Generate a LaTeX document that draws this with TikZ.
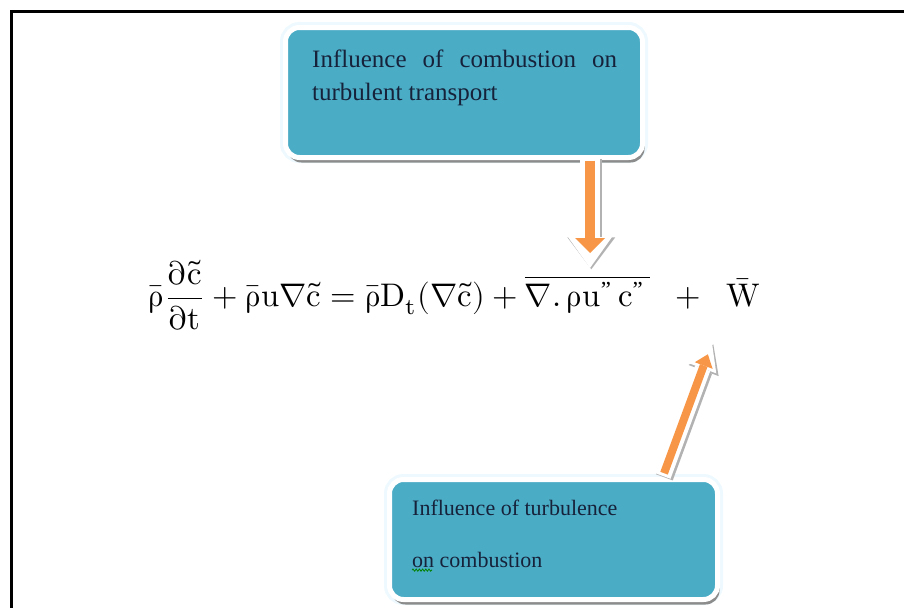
\documentclass[tikz,border=0pt]{standalone}
\usepackage{fontspec}
\usepackage[math-style=upright]{unicode-math}
\setmainfont{Liberation Serif}
\usepackage{graphicx}
\usepackage{tikz}
\usetikzlibrary{positioning, arrows.meta, calc, shadows, decorations.pathmorphing}
\definecolor{boxfill}{RGB}{75,172,198}
\definecolor{arrfill}{RGB}{247,150,70}
\definecolor{txtc}{RGB}{22,34,58}
\tikzset{
  infobox/.style={rounded corners=14pt, fill=boxfill, draw=white, line width=5pt,
    inner sep=0pt, outer sep=0pt,
    preaction={draw=cyan!7, line width=11pt},
    drop shadow={shadow xshift=2pt, shadow yshift=-5pt, fill=black!45, opacity=1}},
  infotxt/.style={text=txtc, inner sep=0pt, anchor=north west},
  arrgrey/.style n args={3}{draw=black!30, line width=#1, shorten >=0pt, shorten <=0pt,
    -{Triangle[length=#3,width=#2,line width=0pt]}, transform canvas={shift={(1.3pt,-1.3pt)}}},
  arrwhite/.style n args={3}{draw=white, line width=#1, shorten >=0pt, shorten <=0pt,
    -{Triangle[length=#3,width=#2,line width=0pt]}},
  downarr/.style={preaction={arrgrey={22pt}{48pt}{32pt}}, preaction={arrwhite={20pt}{44pt}{31pt}},
    draw=arrfill, line width=10pt, -{Triangle[length=15pt,width=30pt,line width=0pt]},
    shorten >=15pt, shorten <=3pt},
  uparr/.style={preaction={arrgrey={18pt}{32pt}{28pt}}, preaction={arrwhite={16pt}{29pt}{27pt}},
    draw=arrfill, line width=8pt, -{Triangle[length=12pt,width=19pt,line width=0pt]},
    shorten >=12pt, shorten <=3pt},
  frame/.style={line width=2.8pt, draw=black}
}

\begin{document}
\begin{tikzpicture}[x=1pt, y=-1pt]
\useasboundingbox (0,0) rectangle (904,608);
% ---------- frame ----------
\draw[frame] (10,11.5) -- (904,11.5);
\draw[frame] (11.5,10) -- (11.5,608);
% ---------- boxes ----------
\node[infobox, minimum width=357pt, minimum height=130pt] (cbox) at (464,92.5) {};
\node[infotxt, text width=305pt, align=justify, font=\fontsize{25}{33}\selectfont] (ctext) at (312,49.8)
  {Influence of combustion on\linebreak turbulent transport};
\node[infobox, minimum width=328pt, minimum height=120pt] (tbox) at (553.5,539.5) {};
\node[infotxt, align=left, font=\fontsize{22}{52}\selectfont] (ttext) at (412,500)
  {Influence of turbulence\\on combustion};
\draw[green!50!black, line width=0.8pt, decorate, decoration={snake, amplitude=1.1pt, segment length=3.2pt}]
  ($(ttext.south west)+(0,2)$) -- ++(20,0);
% ---------- equation ----------
\node (eqn) at (454,295) {\resizebox{612pt}{!}{$\displaystyle
  \bar{\rho}\frac{\partial\tilde{c}}{\partial t}+\bar{\rho}u\nabla\tilde{c}
  =\bar{\rho}D_{t}(\nabla\tilde{c})
  +\overline{\nabla.\,\rho u^{\text{\char"22}}\,c^{\text{\char"22}}\,}\;\;+\;\;\bar{W}$}};
\coordinate (dtip) at (590,268);
\coordinate (utip) at (712,343);
% ---------- arrows ----------
\draw[downarr] (cbox.south -| dtip) -- (dtip);
\draw[uparr] ($(tbox.north west)+(273.5,-3.5)$) -- (utip);
\end{tikzpicture}
\end{document}
